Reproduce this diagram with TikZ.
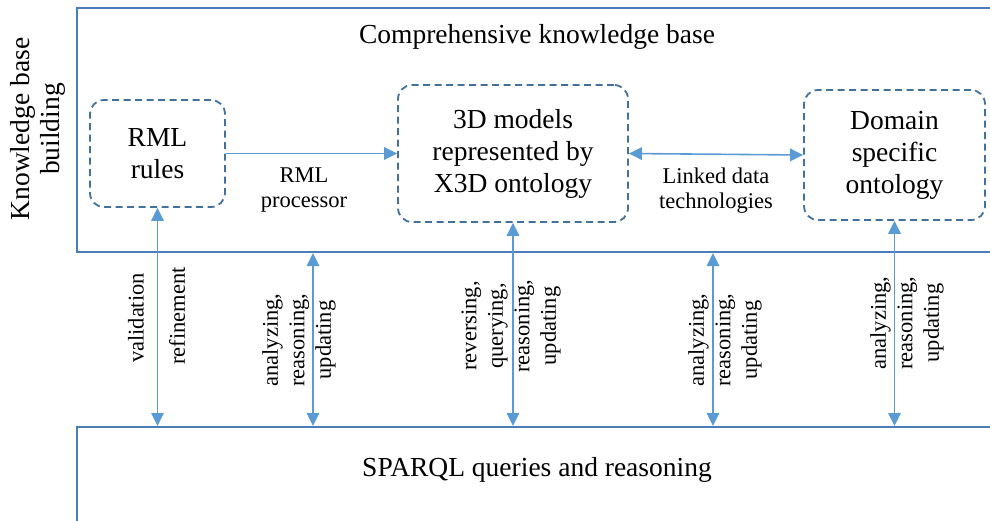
\documentclass[tikz,border=0pt]{standalone}
\usepackage{fontspec}
\setmainfont{Liberation Serif}
\usetikzlibrary{arrows.meta}

\definecolor{frameblue}{HTML}{4A7EBB}
\definecolor{dashblue}{HTML}{41719C}
\definecolor{arrowblue}{HTML}{5B9BD5}

\tikzset{
  frame/.style={draw=frameblue, line width=2pt, minimum width=940pt, anchor=north west, inner sep=0pt},
  dbox/.style={draw=dashblue, line width=1.8pt, dash pattern=on 7pt off 4.5pt, rounded corners=14pt,
    align=center, inner sep=0pt, font=\fontsize{27.5}{32}\selectfont},
  tip/.style={Triangle[length=13pt,width=12.5pt]},
  arr/.style={draw=arrowblue, line width=1.6pt, -{Triangle[length=13pt,width=12.5pt]}},
  darr/.style={draw=arrowblue, line width=1.6pt, {Triangle[length=13pt,width=12.5pt]}-{Triangle[length=13pt,width=12.5pt]}},
  bigtext/.style={font=\fontsize{27.5}{30}\selectfont, align=center, inner sep=0pt},
  lbl/.style={font=\fontsize{22.5}{25}\selectfont, align=center, inner sep=0pt},
  vlbl/.style={font=\fontsize{22.5}{26.5}\selectfont, align=center, inner sep=0pt, rotate=90},
}

\begin{document}
\begin{tikzpicture}[x=1pt, y=-1pt]
  \useasboundingbox (0,0) rectangle (990,520);
  \clip (0,0) rectangle (990,520);

  % outer frames
  \node[frame, minimum height=244pt] (kb) at (76,7) {};
  \node[frame, minimum height=130pt] (sq) at (76,426) {};

  % titles
  \node[bigtext] (kbtitle) at (537,37) {Comprehensive knowledge base};
  \node[bigtext, rotate=90] (side) at (38,129) {Knowledge base\\building};
  \node[bigtext] (sqtitle) at (537,470) {SPARQL queries and reasoning};

  % knowledge sources
  \node[dbox, minimum width=135pt, minimum height=107pt] (rml) at (157.5,153.5) {RML\\rules};
  \node[dbox, minimum width=230pt, minimum height=137pt] (x3d) at (513,153.5) {3D models\\represented by\\X3D ontology};
  \node[dbox, minimum width=181pt, minimum height=130pt] (dom) at (894.5,155) {Domain\\specific\\ontology};

  % horizontal links
  \draw[arr] (rml.east) -- (x3d.west);
  \draw[darr] (x3d.east) -- (dom.west);
  \node[lbl] (proc) at (304,190) {RML\\processor};
  \node[lbl] (ld) at (716,191) {Linked data\\technologies};

  % vertical links to the query layer
  \coordinate (a2) at (313,0);
  \coordinate (a4) at (713,0);
  \draw[darr] (rml.south) -- (rml.south |- sq.north);
  \draw[darr] (a2 |- kb.south) -- (a2 |- sq.north);
  \draw[darr] (x3d.south) -- (x3d.south |- sq.north);
  \draw[darr] (a4 |- kb.south) -- (a4 |- sq.north);
  \draw[darr] (dom.south) -- (dom.south |- sq.north);

  % vertical labels
  \node[vlbl] (v1) at (136,318) {validation};
  \node[vlbl] (v2) at (177,316) {refinement};
  \node[vlbl] (v3) at (299,340) {analyzing,\\reasoning,\\updating};
  \node[vlbl] (v4) at (511,326) {reversing,\\querying,\\reasoning,\\updating};
  \node[vlbl] (v5) at (725,340) {analyzing,\\reasoning,\\updating};
  \node[vlbl] (v6) at (907,323) {analyzing,\\reasoning,\\updating};
\end{tikzpicture}
\end{document}
